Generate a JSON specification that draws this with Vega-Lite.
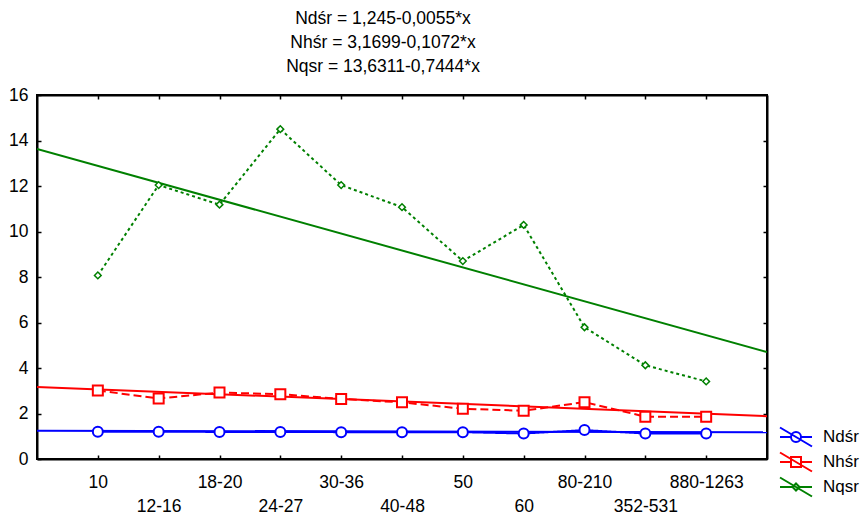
{
  "$schema": "https://vega.github.io/schema/vega-lite/v6.json",
  "autosize": "none",
  "width": 730,
  "height": 364,
  "padding": {"left": 37, "top": 95, "right": 94, "bottom": 55},
  "background": "white",
  "config": {
    "font": "Liberation Sans",
    "view": {"stroke": "black", "strokeWidth": 2},
    "axis": {"labelFont": "Liberation Sans", "labelFontSize": 17.5, "labelColor": "black", "domainColor": "black", "domainWidth": 2, "tickColor": "black", "tickWidth": 1.5, "gridColor": "#c8c8c8", "gridDash": [2, 2], "gridWidth": 1}
  },
  "title": {
    "text": ["Ndśr = 1,245-0,0055*x", "Nhśr = 3,1699-0,1072*x", "Nqsr = 13,6311-0,7444*x"],
    "font": "Liberation Sans",
    "fontSize": 17.5,
    "fontWeight": "normal",
    "color": "black",
    "lineHeight": 24,
    "anchor": "middle",
    "dx": -19,
    "offset": 11
  },
  "datasets": {
    "pts": [
      {"series": "Ndśr", "i": 1, "v": 1.2}, {"series": "Ndśr", "i": 2, "v": 1.2}, {"series": "Ndśr", "i": 3, "v": 1.19}, {"series": "Ndśr", "i": 4, "v": 1.19}, {"series": "Ndśr", "i": 5, "v": 1.18}, {"series": "Ndśr", "i": 6, "v": 1.18}, {"series": "Ndśr", "i": 7, "v": 1.18}, {"series": "Ndśr", "i": 8, "v": 1.12}, {"series": "Ndśr", "i": 9, "v": 1.27}, {"series": "Ndśr", "i": 10, "v": 1.12}, {"series": "Ndśr", "i": 11, "v": 1.12},
      {"series": "Nhśr", "i": 1, "v": 3.01}, {"series": "Nhśr", "i": 2, "v": 2.66}, {"series": "Nhśr", "i": 3, "v": 2.92}, {"series": "Nhśr", "i": 4, "v": 2.85}, {"series": "Nhśr", "i": 5, "v": 2.64}, {"series": "Nhśr", "i": 6, "v": 2.49}, {"series": "Nhśr", "i": 7, "v": 2.21}, {"series": "Nhśr", "i": 8, "v": 2.12}, {"series": "Nhśr", "i": 9, "v": 2.5}, {"series": "Nhśr", "i": 10, "v": 1.86}, {"series": "Nhśr", "i": 11, "v": 1.86},
      {"series": "Nqsr", "i": 1, "v": 8.07}, {"series": "Nqsr", "i": 2, "v": 12.04}, {"series": "Nqsr", "i": 3, "v": 11.18}, {"series": "Nqsr", "i": 4, "v": 14.5}, {"series": "Nqsr", "i": 5, "v": 12.04}, {"series": "Nqsr", "i": 6, "v": 11.07}, {"series": "Nqsr", "i": 7, "v": 8.7}, {"series": "Nqsr", "i": 8, "v": 10.29}, {"series": "Nqsr", "i": 9, "v": 5.79}, {"series": "Nqsr", "i": 10, "v": 4.12}, {"series": "Nqsr", "i": 11, "v": 3.41}
    ],
    "reg": [
      {"series": "Ndśr", "i": 0, "v": 1.245}, {"series": "Ndśr", "i": 12, "v": 1.179},
      {"series": "Nhśr", "i": 0, "v": 3.1699}, {"series": "Nhśr", "i": 12, "v": 1.8835},
      {"series": "Nqsr", "i": 0, "v": 13.6311}, {"series": "Nqsr", "i": 12, "v": 4.6983}
    ]
  },
  "resolve": {"axis": {"x": "independent", "y": "independent"}},
  "layer": [
    {
      "data": {"name": "pts"},
      "transform": [{"filter": "datum.i == 1"}],
      "mark": {"type": "point", "filled": false, "opacity": 0, "strokeWidth": 2},
      "encoding": {
        "x": {"field": "i", "type": "quantitative", "scale": {"domain": [0, 12], "nice": false, "zero": false}, "axis": null},
        "y": {"field": "v", "type": "quantitative", "scale": {"domain": [0, 16], "nice": false}, "axis": null},
        "color": {"field": "series", "type": "nominal", "scale": {"domain": ["Ndśr", "Nhśr", "Nqsr"], "range": ["#0000ff", "#ff0000", "#008000"]},
          "legend": {"title": null, "orient": "none", "legendX": 748, "legendY": 331, "padding": 0, "symbolOpacity": 1, "symbolSize": 400, "symbolStrokeWidth": 2, "symbolFillColor": "white", "labelFontSize": 17, "labelFont": "Liberation Sans", "labelColor": "black", "labelOffset": 16, "rowPadding": -4.5}},
        "shape": {"field": "series", "type": "nominal",
          "scale": {"domain": ["Ndśr", "Nhśr", "Nqsr"], "range": [
            "M-1.6,0H-0.5M0.5,0H1.6M-1.6,-0.95L1.6,0.95M0.5,0A0.5,0.5,0,1,1,-0.5,0A0.5,0.5,0,1,1,0.5,0Z",
            "M-1.6,0H-0.5M0.5,0H1.6M-1.6,-0.95L1.6,0.95M-0.5,-0.5H0.5V0.5H-0.5Z",
            "M-1.6,0H-0.35M0.35,0H1.6M-1.6,-0.95L1.6,0.95M0,-0.35L0.35,0L0,0.35L-0.35,0Z"]},
          "legend": {"title": null, "orient": "none", "legendX": 748, "legendY": 331, "padding": 0, "symbolOpacity": 1, "symbolSize": 400, "symbolStrokeWidth": 2, "symbolFillColor": "white", "labelFontSize": 17, "labelFont": "Liberation Sans", "labelColor": "black", "labelOffset": 16, "rowPadding": -4.5}}
      }
    },
    {
      "data": {"name": "reg"},
      "mark": {"type": "line", "strokeWidth": 2, "clip": true},
      "encoding": {
        "x": {"field": "i", "type": "quantitative",
          "axis": {"orient": "bottom", "values": [1, 2, 3, 4, 5, 6, 7, 8, 9, 10, 11], "title": null, "tickSize": -4, "labelPadding": 18, "labelLineHeight": 24, "labelBaseline": "top", "labelFlush": false, "labelOverlap": false,
            "labelExpr": "datum.value % 2 == 1 ? ['','10','12-16','18-20','24-27','30-36','40-48','50','60','80-210','352-531','880-1263'][datum.value] : ['', ['','10','12-16','18-20','24-27','30-36','40-48','50','60','80-210','352-531','880-1263'][datum.value]]"}},
        "y": {"field": "v", "type": "quantitative",
          "axis": {"orient": "left", "values": [0, 2, 4, 6, 8, 10, 12, 14, 16], "title": null, "tickSize": -4, "labelPadding": 13}},
        "color": {"field": "series", "type": "nominal"},
        "detail": {"field": "series"}
      }
    },
    {
      "data": {"name": "pts"},
      "mark": {"type": "line", "strokeWidth": 2},
      "encoding": {
        "x": {"field": "i", "type": "quantitative", "axis": {"orient": "top", "values": [1, 2, 3, 4, 5, 6, 7, 8, 9, 10, 11], "labels": false, "title": null, "tickSize": -4, "grid": false}},
        "y": {"field": "v", "type": "quantitative", "axis": {"orient": "right", "values": [2, 4, 6, 8, 10, 12, 14], "labels": false, "title": null, "tickSize": -4, "grid": false}},
        "color": {"field": "series", "type": "nominal"},
        "detail": {"field": "series"},
        "strokeDash": {"condition": [{"test": "datum.series == 'Nhśr'", "value": [8, 4]}, {"test": "datum.series == 'Nqsr'", "value": [3, 3]}], "value": [1, 0]}
      }
    },
    {
      "data": {"name": "pts"},
      "mark": {"type": "point", "filled": false, "fill": "white", "fillOpacity": 1, "strokeWidth": 2, "opacity": 1},
      "encoding": {
        "x": {"field": "i", "type": "quantitative", "axis": null},
        "y": {"field": "v", "type": "quantitative", "axis": null},
        "color": {"field": "series", "type": "nominal"},
        "shape": {"condition": [{"test": "datum.series == 'Ndśr'", "value": "circle"}, {"test": "datum.series == 'Nhśr'", "value": "square"}], "value": "diamond"},
        "size": {"condition": [{"test": "datum.series == 'Ndśr'", "value": 100}, {"test": "datum.series == 'Nhśr'", "value": 100}], "value": 45},
        "strokeWidth": {"condition": {"test": "datum.series == 'Nqsr'", "value": 1.5}, "value": 2}
      }
    }
  ]
}
